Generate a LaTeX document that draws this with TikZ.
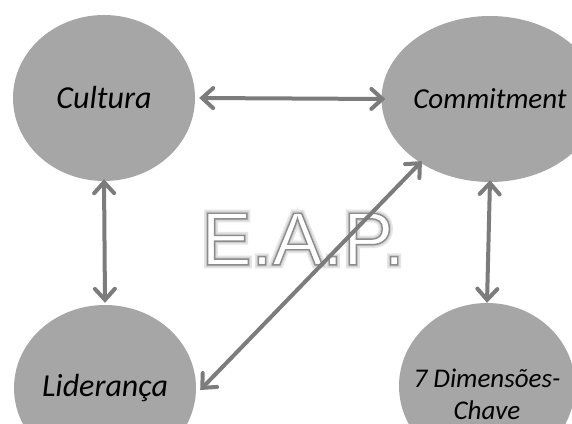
\documentclass[tikz,border=0pt]{standalone}
\usepackage{fontspec}
\setmainfont{Carlito}
\newfontfamily\markfont{Liberation Sans}
\usetikzlibrary{arrows.meta,shapes.geometric}
\definecolor{blobgray}{HTML}{A6A6A6}
\definecolor{linkgray}{HTML}{7C7C7C}
% text drawn as an outline: render mode, stroke width, fill white
\newcommand\outlinetext[3]{%
  \special{pdf:literal direct #1 Tr #2 w 1 g}#3\special{pdf:literal direct 0 Tr}}
\tikzset{
  blob/.style={ellipse, fill=blobgray, inner sep=0pt,
    minimum width=182pt, minimum height=166pt, align=center},
  link/.style={draw=linkgray, line width=4pt,
    {Straight Barb[length=11pt,width=20pt,line cap=round]}-{Straight Barb[length=11pt,width=20pt,line cap=round]},
    line cap=round},
  wmtext/.style={font=\markfont\fontsize{75}{76}\selectfont, inner sep=0pt}
}
\begin{document}
\begin{tikzpicture}[x=1pt,y=-1pt]
  \useasboundingbox (0,0) rectangle (572,423);
  \fill[white] (0,0) rectangle (572,423);

  % outlined "E.A.P." watermark: soft grey halo, then white letters with a grey edge
  \node[wmtext, text=black!10] (halo) at (303,239) {\outlinetext{1}{7}{E.A.P.}};
  \node[wmtext, text=black!20] (halo2) at (303,239) {\outlinetext{1}{3.5}{E.A.P.}};
  \node[wmtext, text=black!45] (wm) at (303,239) {\outlinetext{2}{1.4}{E.A.P.}};

  % the four concepts
  \node[blob, font=\itshape\fontsize{32}{34}\selectfont] (cul) at (104,98) {Cultura};
  \node[blob, font=\itshape\fontsize{29}{30}\selectfont] (com) at (490,99) {Commitment};
  \node[blob, font=\itshape\fontsize{32}{34}\selectfont] (lid) at (105,388) {Liderança};
  \node[blob, minimum width=176pt] (dim) at (487,386) {};
  \node[align=center, inner sep=0pt, font=\itshape\fontsize{27}{32}\selectfont]
    (dimlabel) at ([yshift=-8pt]dim.center) {7 Dimensões-\\Chave};

  % two-way links
  \draw[link] ([xshift=4pt]cul.east) -- ([xshift=4pt]com.west);
  \draw[link] ([yshift=2pt]cul.south) -- ([yshift=2pt]lid.north);
  \draw[link] ([yshift=2pt]com.south) -- (dim.north);
  \draw[link] ([shift={(4pt,-2pt)}]lid.east) -- ([shift={(-2pt,4pt)}]com.225);
\end{tikzpicture}
\end{document}
